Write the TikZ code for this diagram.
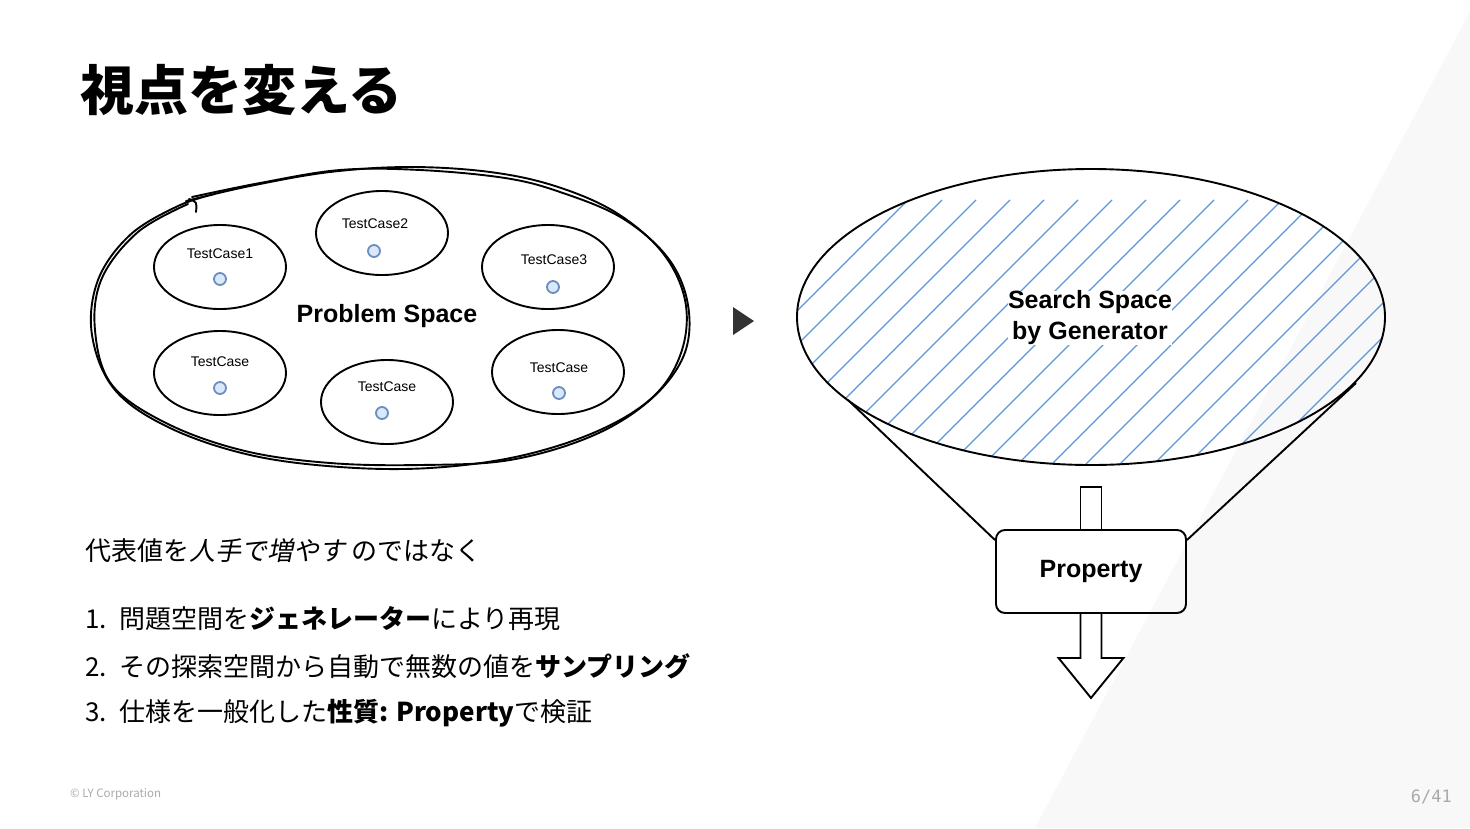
\documentclass[tikz,border=0pt]{standalone}
\usepackage{fontspec}
\setmainfont{Noto Sans CJK JP}
\newfontfamily\slantcjk{Noto Sans CJK JP}[FakeSlant=0.2]
\newfontfamily\helv{Liberation Sans}
\newfontfamily\pagefont{DejaVu Sans Mono}
\usetikzlibrary{shapes.geometric,positioning}
\definecolor{hatch}{HTML}{5B96DE}
\definecolor{dotfill}{HTML}{DAE8FC}
\definecolor{dotline}{HTML}{6C8EBF}
\definecolor{bgtri}{HTML}{F8F8F8}
\definecolor{footgray}{HTML}{AAAAAA}
\definecolor{marker}{HTML}{333333}

\begin{document}
\begin{tikzpicture}[x=1pt, y=-1pt,
	tcase/.style={ellipse, draw, line width=1.9pt, minimum width=132pt, minimum height=84pt, inner sep=0pt},
	tclabel/.style={font=\helv\fontsize{14pt}{16pt}\selectfont, inner sep=0pt},
	tcdot/.style={circle, draw=dotline, fill=dotfill, line width=1.8pt, minimum size=12pt, inner sep=0pt},
	biglabel/.style={font=\helv\bfseries\fontsize{25pt}{31pt}\selectfont, inner sep=1pt, align=center},
	bodytext/.style={anchor=west, inner sep=0pt, font=\fontsize{26pt}{30pt}\selectfont},
	sketch/.style={line width=1.9pt, line cap=round, line join=round}]
	\useasboundingbox (0,0) rectangle (1470,828);
	\fill[white] (0,0) rectangle (1470,828);
	\fill[bgtri] (1470,12) -- (1470,828) -- (1035,828) -- cycle;

	% title
	\node[anchor=west, inner sep=0pt, font=\bfseries\fontsize{54pt}{60pt}\selectfont] (title) at (80,90) {視点を変える};

	% problem space, hand drawn
	\draw[sketch] plot[smooth, tension=0.6] coordinates {(186,201) (250,186) (330,172) (410,167) (490,172) (555,186) (615,212) (662,252) (685,300) (682,350) (655,395) (600,430) (520,456) (430,468) (340,467) (250,455) (170,428) (115,390) (92,335) (98,280) (130,235) (178,206) (215,194)};
	\draw[sketch] plot[smooth, tension=0.6] coordinates {(192,197) (260,183) (340,170) (420,170) (505,178) (560,192) (622,218) (668,258) (688,305) (684,355) (650,400) (592,436) (510,460) (420,465) (330,463) (245,451) (168,424) (112,385) (95,330) (102,278) (138,232) (188,204)};
	\draw[sketch] (189,199) .. controls (197,202) .. (196,212);
	\node[biglabel] (P) at (387,316) {Problem Space};

	\node[tcase] (A) at (220,267) {};
	\node[tcase] (B) at (382,233) {};
	\node[tcase] (C) at (548,267) {};
	\node[tcase] (A2) at (220,373) {};
	\node[tcase] (B2) at (387,402) {};
	\node[tcase] (C2) at (558,372) {};
	\node[tclabel] (Alab) at (220,254) {TestCase1};
	\node[tclabel] (Blab) at (375,224) {TestCase2};
	\node[tclabel] (Clab) at (554,260) {TestCase3};
	\node[tclabel] (A2lab) at (220,362) {TestCase};
	\node[tclabel] (B2lab) at (387,387) {TestCase};
	\node[tclabel] (C2lab) at (559,368) {TestCase};
	\node[tcdot] (Adot) at (220,279) {};
	\node[tcdot] (Bdot) at (374,251) {};
	\node[tcdot] (Cdot) at (553,287) {};
	\node[tcdot] (A2dot) at (220,388) {};
	\node[tcdot] (B2dot) at (382,413) {};
	\node[tcdot] (C2dot) at (559,393) {};

	% arrow between
	\fill[marker] (733,307) -- (754,321) -- (733,335) -- cycle;

	% search space
	\begin{scope}
		\clip (1091,317) ellipse [x radius=294, y radius=148];
		\foreach \k in {-10,...,12}
			\draw[hatch, line width=1.2pt] ({1380+34*\k-200},200) -- ({1380+34*\k-500},500);
	\end{scope}
	\node[ellipse, draw, line width=1.9pt, minimum width=588pt, minimum height=296pt, inner sep=0pt] (S) at (1091,317) {};
	\node[biglabel, fill=white, inner sep=0pt] (Slab) at (1090,318) {Search Space\\by Generator};

	\node[draw, line width=1.9pt, rounded corners=9pt, minimum width=190pt, minimum height=83pt, font=\helv\bfseries\fontsize{25pt}{31pt}\selectfont] (Prop) at (1091,571.5) {Property};
	\coordinate (SL) at (848,400);
	\coordinate (SR) at (1356,383);
	\draw[line width=1.9pt] (SL) -- ([yshift=-11pt]Prop.north west);
	\draw[line width=1.9pt] (SR) -- ([yshift=-11pt]Prop.north east);
	\draw[line width=1.9pt] ([xshift=-10.5pt]Prop.north) -- ++(0,-42) -- ++(21,0) -- ([xshift=10.5pt]Prop.north);
	\draw[line width=1.9pt, line join=miter] ([xshift=-10.5pt]Prop.south) -- ++(0,44) -- ++(-22,0) -- ++(32.5,40) -- ++(32.5,-40) -- ++(-22,0) -- ([xshift=10.5pt]Prop.south);

	% text
	\node[bodytext] (intro) at (85,551) {代表値を{\slantcjk 人手で増やす} のではなく};
	\node[bodytext] (step1) at (85,619) {\makebox[34pt][l]{1.}問題空間を\textbf{ジェネレーター}により再現};
	\node[bodytext] (step2) at (85,666) {\makebox[34pt][l]{2.}その探索空間から自動で無数の値を\textbf{サンプリング}};
	\node[bodytext] (step3) at (85,713) {\makebox[34pt][l]{3.}仕様を一般化した\textbf{性質: Property}で検証};

	% footer
	\node[anchor=west, inner sep=0pt, text=footgray, font=\fontsize{11.5pt}{13pt}\selectfont] (copy) at (70,794) {© LY Corporation};
	\node[anchor=east, inner sep=0pt, text=footgray, font=\pagefont\fontsize{17pt}{20pt}\selectfont] (page) at (1452,797) {6/41};
\end{tikzpicture}
\end{document}
